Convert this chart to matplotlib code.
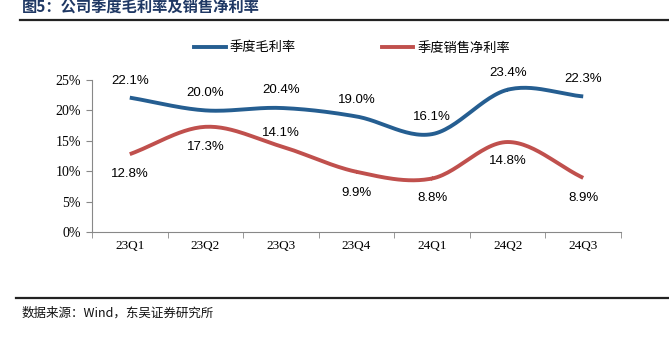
import numpy as np
import matplotlib
matplotlib.use("Agg")
import matplotlib.pyplot as plt
from matplotlib.lines import Line2D

plt.rcParams['font.family'] = ['Liberation Sans', 'Noto Sans CJK SC', 'DejaVu Sans']

quarters = ["23Q1", "23Q2", "23Q3", "23Q4", "24Q1", "24Q2", "24Q3"]
gross_margin = [22.1, 20.0, 20.4, 19.0, 16.1, 23.4, 22.3]
net_margin = [12.8, 17.3, 14.1, 9.9, 8.8, 14.8, 8.9]
yticks = [0, 5, 10, 15, 20, 25]
series_names = ["季度毛利率", "季度销售净利率"]
title = "图5：公司季度毛利率及销售净利率"
source = "数据来源：Wind，东吴证券研究所"

blue = "#255E91"
red = "#C0504D"


def smooth(x, y, n=30):
    x = np.asarray(x, float)
    y = np.asarray(y, float)
    px = np.concatenate([[2 * x[0] - x[1]], x, [2 * x[-1] - x[-2]]])
    py = np.concatenate([[2 * y[0] - y[1]], y, [2 * y[-1] - y[-2]]])
    xs, ys = [], []
    t = np.linspace(0, 1, n)
    for i in range(1, len(px) - 2):
        p0, p1, p2, p3 = py[i - 1], py[i], py[i + 1], py[i + 2]
        q0, q1, q2, q3 = px[i - 1], px[i], px[i + 1], px[i + 2]
        f = lambda a0, a1, a2, a3: 0.5 * ((2 * a1) + (-a0 + a2) * t + (2 * a0 - 5 * a1 + 4 * a2 - a3) * t ** 2 + (-a0 + 3 * a1 - 3 * a2 + a3) * t ** 3)
        xs.append(f(q0, q1, q2, q3))
        ys.append(f(p0, p1, p2, p3))
    return np.concatenate(xs), np.concatenate(ys)


fig = plt.figure(figsize=(6.69, 3.38), dpi=100)
ax = fig.add_axes([92 / 669, 1 - 232 / 338, 529 / 669, 152 / 338])

x = np.arange(len(quarters))
sx, sy = smooth(x, gross_margin)
ax.plot(sx, sy, color=blue, lw=2.8, solid_capstyle='butt')
sx, sy = smooth(x, net_margin)
ax.plot(sx, sy, color=red, lw=2.8, solid_capstyle='butt')

ax.set_xlim(-0.5, len(quarters) - 0.5)
ax.set_ylim(0, 25)
ax.set_yticks(yticks)
ax.set_yticklabels([f"{v}%" for v in yticks], family='Liberation Serif', fontsize=10)
ax.set_xticks(x)
ax.set_xticklabels(quarters, family='Liberation Serif', fontsize=9.5)
ax.tick_params(axis='x', length=0, pad=6)
ax.set_xticks(np.arange(len(quarters) + 1) - 0.5, minor=True)
ax.tick_params(axis='x', which='minor', length=4, color='#888888', direction='out')
ax.tick_params(axis='y', length=4, color='#888888', direction='out', pad=4)
for s in ['top', 'right']:
    ax.spines[s].set_visible(False)
for s in ['left', 'bottom']:
    ax.spines[s].set_color('#888888')
    ax.spines[s].set_linewidth(0.8)

# label offsets in points (positive = above)
gm_off = [12.2, 12.2, 12.6, 12.2, 12.2, 12.2, 12.6]
nm_off = [-14.4, -14.4, 9.4, -15, -14.2, -13.8, -14.4]
for i in range(len(quarters)):
    ax.annotate(f"{gross_margin[i]:.1f}%", (x[i], gross_margin[i]), xytext=(0, gm_off[i]),
                textcoords='offset points', ha='center', va='center', fontsize=9.5)
    ax.annotate(f"{net_margin[i]:.1f}%", (x[i], net_margin[i]), xytext=(0, nm_off[i]),
                textcoords='offset points', ha='center', va='center', fontsize=9.5)

handles = [Line2D([], [], color=blue, lw=2.8), Line2D([], [], color=red, lw=2.8)]
leg = fig.legend(handles, series_names, loc='center', bbox_to_anchor=(352 / 669, 1 - 48 / 338),
                 ncol=2, frameon=False, handlelength=2.4, columnspacing=6.5,
                 handletextpad=0.3, prop={'family': ['Noto Sans CJK SC'], 'size': 9.5})

fig.text(22 / 669, 1 - 7 / 338, title, fontsize=11, fontweight='bold', color='#1F3864',
         family=['Noto Sans CJK SC'], va='center', ha='left')
fig.add_artist(Line2D([20 / 669, 1], [1 - 20 / 338, 1 - 20 / 338], color='#222222', lw=1.6))
fig.add_artist(Line2D([16 / 669, 1], [1 - 298 / 338, 1 - 298 / 338], color='#222222', lw=1.6))
fig.text(22 / 669, 1 - 313 / 338, source, fontsize=9, color='#111111',
         family=['Noto Sans CJK SC'], va='center', ha='left')

fig.savefig("out.png", dpi=100)
